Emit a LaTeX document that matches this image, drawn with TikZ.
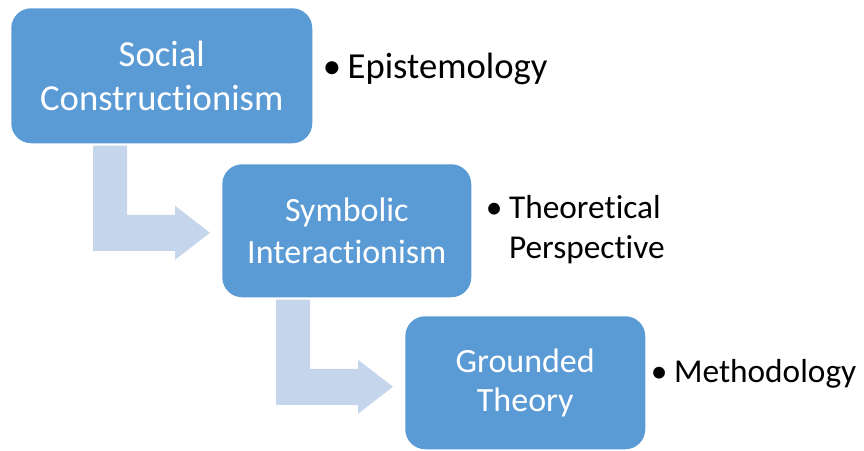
\documentclass[tikz,border=0pt]{standalone}
\usepackage{fontspec}
\setmainfont{Carlito}[Ligatures=NoCommon]
\usepackage{tikz}
\usetikzlibrary{positioning,calc}
\definecolor{boxblue}{RGB}{91,155,213}
\definecolor{flowblue}{RGB}{197,213,235}

\begin{document}
\begin{tikzpicture}[x=0.75pt, y=-0.75pt,
	stage/.style={rectangle, rounded corners=15pt, fill=boxblue, text=white, anchor=north west, align=center, inner sep=0pt},
	note/.style={anchor=base west, inner sep=0pt},
	flow/.style={fill=flowblue}]
	\useasboundingbox (0,0) rectangle (864,450);
	% the three stages
	\node[stage, minimum width=225.75pt, minimum height=101.25pt, font=\fontsize{27.5}{33.5}\selectfont] (social) at (11,8) {Social\\Constructionism};
	\node[stage, minimum width=186.75pt, minimum height=99.75pt, font=\fontsize{25.5}{31.5}\selectfont] (symbolic) at (222,164) {Symbolic\\Interactionism};
	\node[stage, minimum width=180pt, minimum height=99.75pt, font=\fontsize{25.5}{29}\selectfont] (grounded) at (405,316) {Grounded\\Theory};
	% bent arrows between them
	\coordinate (s1) at ($(social.south -| symbolic.west)+(-112,2)$);
	\coordinate (t1) at ($(symbolic.west)+(-12,2)$);
	\coordinate (s2) at ($(symbolic.south -| grounded.west)+(-112,2)$);
	\coordinate (t2) at ($(grounded.west)+(-12,4)$);
	\foreach \s/\t in {s1/t1, s2/t2}
		\fill[flow] ($(\s)+(-17,0)$) -- ($(\s)+(17,0)$) -- ($(\s|-\t)+(17,-18)$) -- ($(\t)+(-35,-18)$) -- ($(\t)+(-35,-27)$) -- (\t)
			-- ($(\t)+(-35,27)$) -- ($(\t)+(-35,18)$) -- ($(\s|-\t)+(-17,18)$) -- cycle;
	% labels on the right
	\node[note, font=\fontsize{27.5}{30}\selectfont] (epis) at ($(social.north east)+(10,70)$) {\begin{tabular}[t]{@{}l@{\hspace{5pt}}l@{}}\textbullet & Epistemology\end{tabular}};
	\node[note, font=\fontsize{25}{30}\selectfont] (theo) at ($(symbolic.north east)+(14,54)$) {\begin{tabular}[t]{@{}l@{\hspace{5pt}}l@{}}\textbullet & Theoretical\\ & Perspective\end{tabular}};
	\node[note, font=\fontsize{25}{30}\selectfont] (meth) at ($(grounded.north east)+(5,66)$) {\begin{tabular}[t]{@{}l@{\hspace{5pt}}l@{}}\textbullet & Methodology\end{tabular}};
\end{tikzpicture}
\end{document}
